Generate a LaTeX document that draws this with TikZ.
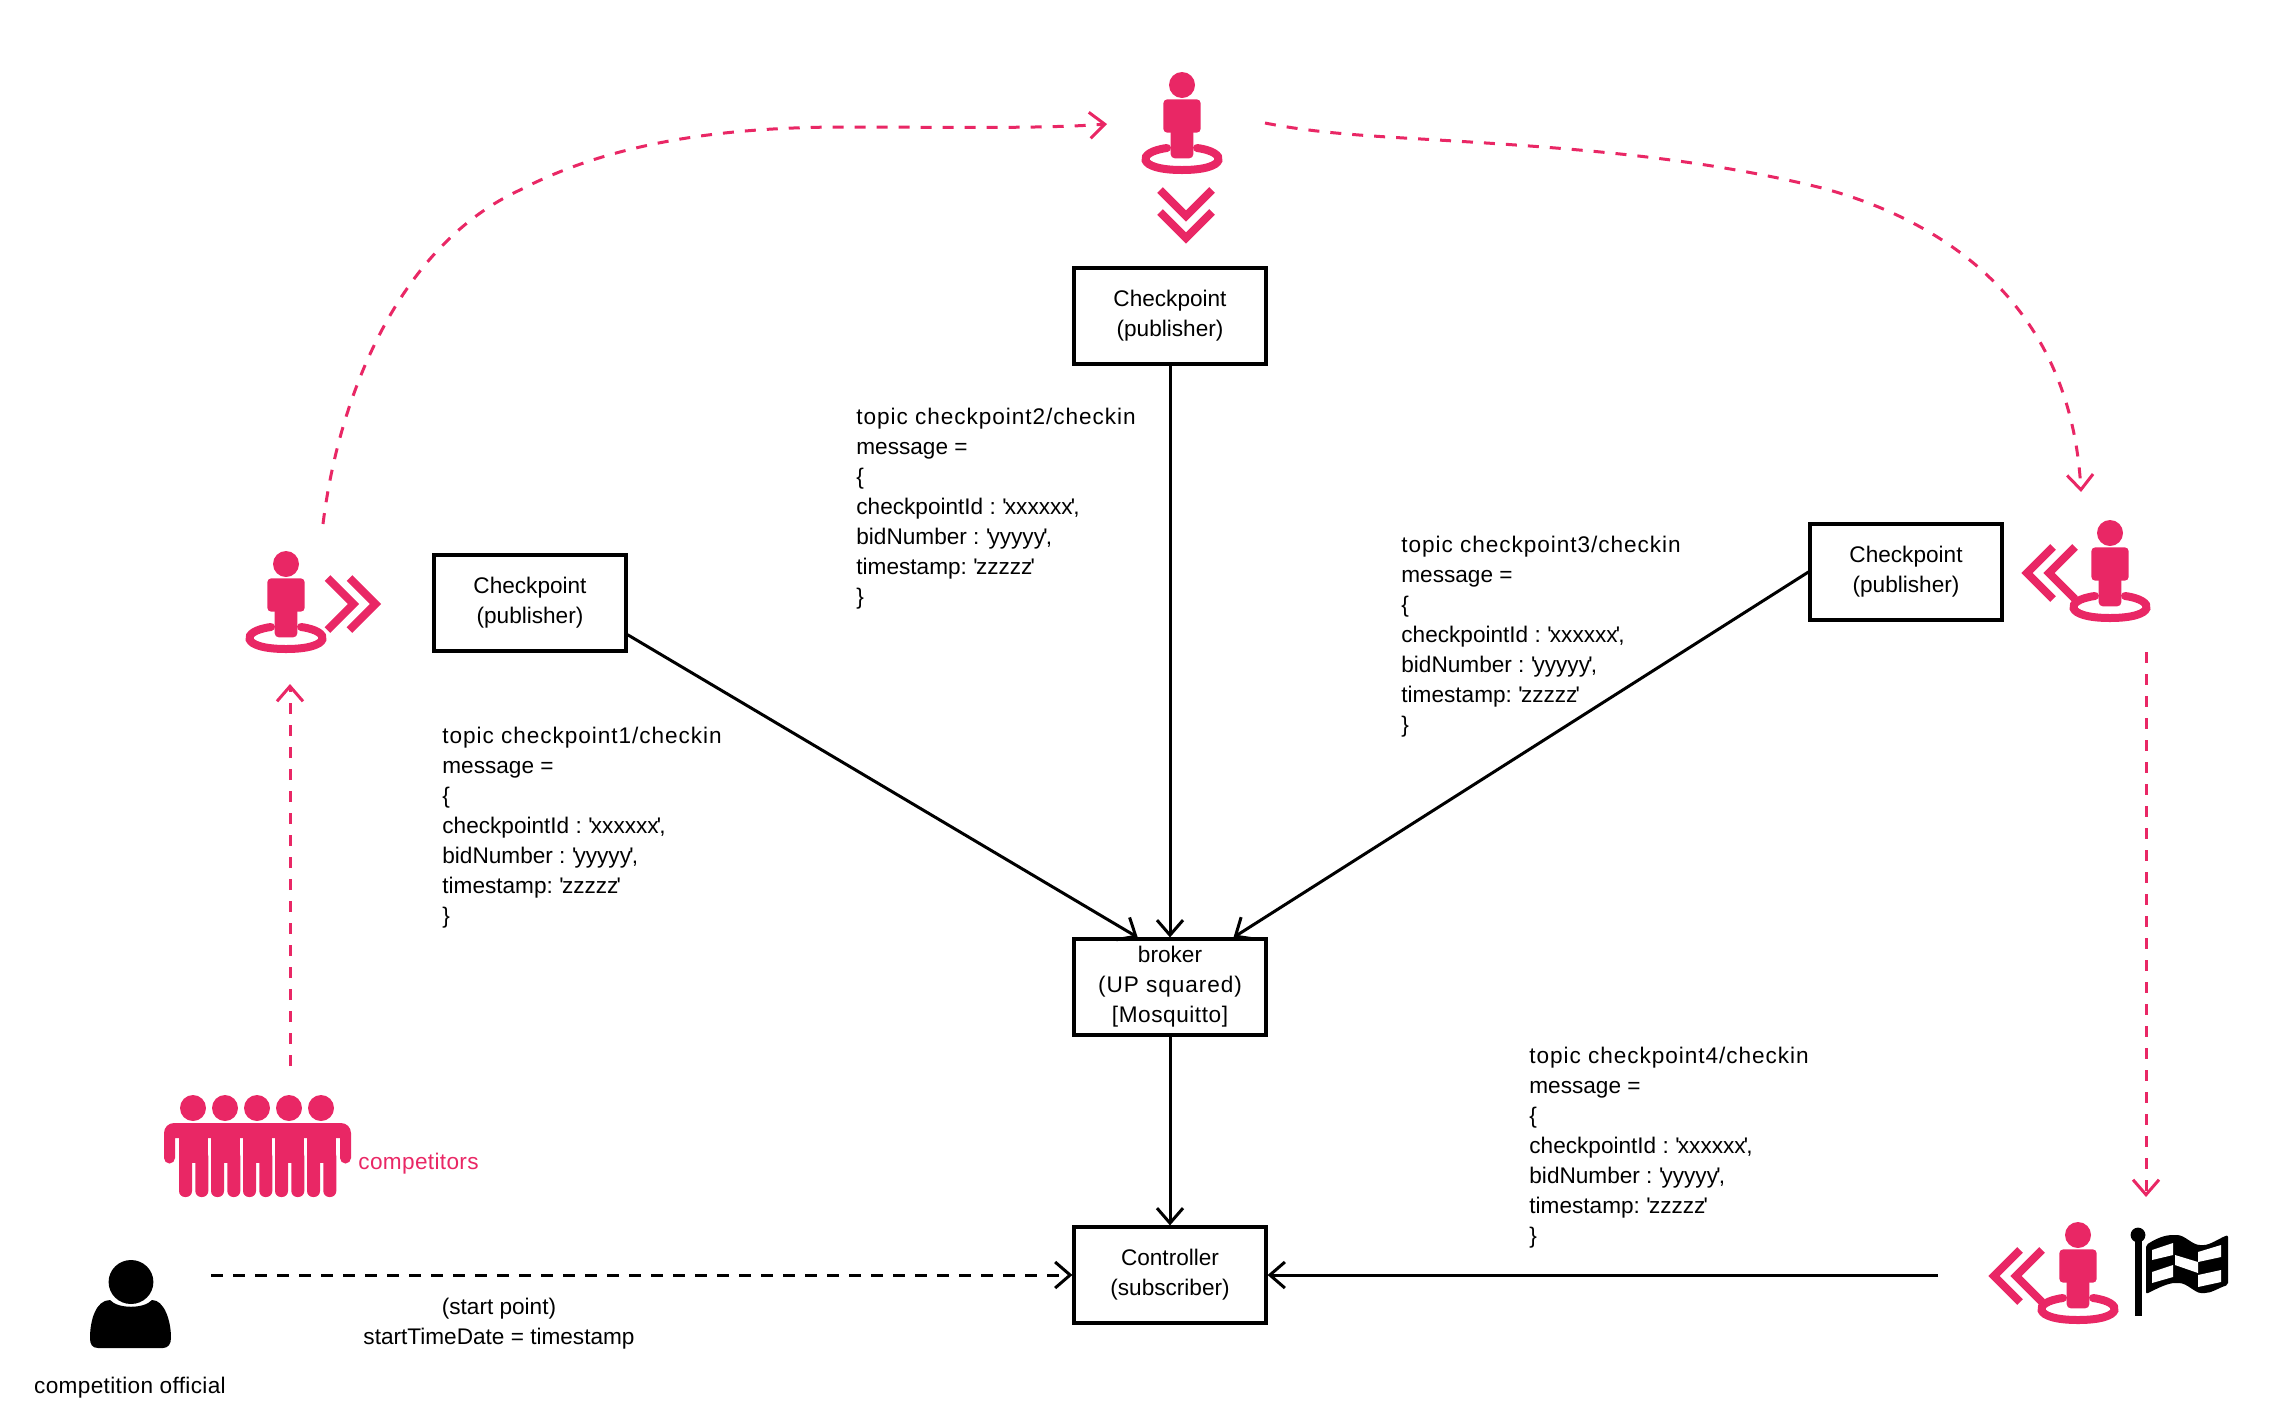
\documentclass[tikz,border=0pt]{standalone}
\usepackage{fontspec}
\setmainfont{Liberation Sans}
\usetikzlibrary{arrows.meta}
\definecolor{runpink}{HTML}{E92765}
\tikzstyle{every node}=[font=\fontsize{11.3}{15}\selectfont,align=center]
\tikzstyle{box}=[draw,line width=1.6pt,minimum width=96pt,minimum height=48pt,inner sep=0pt]
\tikzstyle{code}=[anchor=north west,inner sep=0pt,align=left]
\tikzstyle{wire}=[draw,line width=1.5pt,-{Straight Barb[length=7.5pt,width=13pt]}]
\tikzstyle{startwire}=[wire,dash pattern=on 6pt off 5pt]
\tikzstyle{flow}=[draw,runpink,line width=1.5pt,dash pattern=on 5.5pt off 5.5pt,-{Straight Barb[length=7.5pt,width=13pt]}]
\tikzset{
  runner/.pic={
    \fill[runpink] (0,0) circle[radius=6.5pt];
    \fill[runpink,rounded corners=2pt] (-18.7,14.3) rectangle (18.7,47.7);
    \fill[runpink,rounded corners=2pt] (-11.3,40) rectangle (11.3,73.3);
    \draw[runpink,line width=4pt,line cap=round]
      (-15,63) .. controls (-46,67) and (-46,85) .. (0,85) .. controls (46,85) and (46,67) .. (15,63);
  },
  chevrons/.pic={
    \foreach \off in {0,22}
      \draw[runpink,line width=4pt,miter limit=4] (\off-26,-26) -- (\off,0) -- (\off-26,26);
  }
}
\newcommand{\wide}[1]{{\addfontfeature{LetterSpace=4.2}#1}}
\newcommand{\apos}{\kern-.9pt\textquotesingle\kern-.9pt}
\newcommand{\codelines}[1]{\wide{topic checkpoint#1/checkin}\\message =\\\{\\checkpointId : \apos xxxxxx\apos,\\bidNumber : \apos yyyyy\apos,\\timestamp: \apos zzzzz\apos\\\}}
\begin{document}
\begin{tikzpicture}[x=0.5pt,y=-0.5pt]
    \useasboundingbox (0,0) rectangle (2276,1420);
    % boxes
    \foreach \pos/\name/\txt in {{(530,603)/cpone/Checkpoint\\(publisher)}, {(1170,316)/cptwo/Checkpoint\\(publisher)},
                            {(1906,572)/cpthree/Checkpoint\\(publisher)}, {(1170,987)/broker/broker\\\wide{(UP squared)}\\{\addfontfeature{LetterSpace=2.5}{[Mosquitto]}}},
                            {(1170,1275)/controller/Controller\\(subscriber)}}
        \node[box] (\name) at \pos {\txt};
    % messages
    \foreach \pos/\num in {{(442,727)/1}, {(856,408)/2}, {(1401,536)/3}, {(1529,1047)/4}}
        \node[code] (msg\num) at \pos {\codelines{\num}};
    % runners
    \path (286,564) pic {runner} (353.5,604) pic {chevrons};
    \path (1182,85) pic {runner} (1186,216) pic[rotate=-90] {chevrons};
    \path (2110,533) pic {runner} (2049,573) pic[rotate=180] {chevrons};
    \path (2078,1235) pic {runner} (2016,1276) pic[rotate=180] {chevrons};
    % competitors
    \foreach \i in {0,1,2,3,4} {
        \fill[runpink] (193+32*\i,1108) circle[radius=6.5pt];
        \fill[runpink] (179+32*\i,1130) rectangle (208.3+32*\i,1163);
        \fill[runpink,rounded corners=3pt] (179+32*\i,1150) rectangle (192+32*\i,1197);
        \fill[runpink,rounded corners=3pt] (195.3+32*\i,1150) rectangle (208.3+32*\i,1197);
    }
    \fill[runpink] (164,1158) [rounded corners=5pt] -- (164,1123) -- (351,1123) [sharp corners] -- (351,1158) -- (340,1158) -- (340,1138) -- (175,1138) -- (175,1158) -- cycle;
    \fill[runpink] (169.5,1158) circle[radius=2.75pt] (345.5,1158) circle[radius=2.75pt];
    \node[runpink,anchor=west,inner sep=0pt] (crowdlabel) at (358,1164) {\addfontfeature{LetterSpace=1.5}competitors};
    % official
    \fill (131,1282) ellipse[x radius=11.2pt,y radius=11pt];
    \fill (98,1348) .. controls (92,1348) and (90,1344) .. (90,1338) .. controls (90,1320) and (96,1300) .. (110,1300) .. controls (118,1309) and (144,1309) .. (152,1300) .. controls (164,1300) and (171,1320) .. (171,1338) .. controls (171,1344) and (168,1348) .. (163,1348) -- cycle;
    \node[inner sep=0pt] (official) at (130,1388) {\addfontfeature{LetterSpace=1.5}competition official};
    \node[inner sep=0pt] (startlabel) at (499,1324) {(start point)\\startTimeDate = timestamp};
    % flag
    \draw[line width=3.5pt] (2138,1235) -- (2138,1316);
    \fill (2138,1235) circle[radius=3.7pt];
    \fill[rounded corners=1pt] (2146,1245) .. controls (2160,1236) and (2168,1235) .. (2175,1235) .. controls (2185,1235) and (2192,1245) .. (2202,1245) .. controls (2210,1245) and (2220,1238) .. (2228,1235) -- (2228,1285) .. controls (2218,1288) and (2212,1293) .. (2203,1293) .. controls (2195,1293) and (2187,1283) .. (2177,1283) .. controls (2168,1283) and (2158,1288) .. (2146,1294) -- cycle;
    \foreach \patch in {{(2152,1250)--(2173,1243)--(2173,1255)--(2152,1260)},
                        {(2175,1255)--(2198,1262)--(2198,1273)--(2175,1265)},
                        {(2198,1252)--(2221,1245)--(2221,1257)--(2198,1262)},
                        {(2152,1272)--(2173,1265)--(2173,1277)--(2152,1283)},
                        {(2198,1275)--(2221,1270)--(2221,1282)--(2198,1287)}}
        \fill[white] \patch -- cycle;
    % connectors
    \coordinate (flowa) at (290,1066);
    \coordinate (flowb) at (290,684);
    \coordinate (flowc) at (323,524);
    \coordinate (flowd) at (1107,124);
    \coordinate (flowe) at (1265,123);
    \coordinate (flowf) at (2081,492);
    \coordinate (flowg) at (2146,652);
    \coordinate (flowh) at (2146,1197);
    \coordinate (officialend) at (211,1275);
    \coordinate (finishend) at (1938,1275);
    \path[flow] (flowa) -- (flowb);
    \path[flow] (flowc) .. controls (339,394) and (400,245) .. (520,190) .. controls (620,138) and (740,127) .. (846,127) .. controls (940,127) and (1040,129) .. (flowd);
    \path[flow] (flowe) .. controls (1315,133) and (1370,136) .. (1421,139) .. controls (1555,147) and (1688,155) .. (1822,188) .. controls (1970,228) and (2072,325) .. (flowf);
    \path[flow] (flowg) -- (flowh);
    \path[wire] (cpone.-18.3) -- (broker.123);
    \path[wire] (cptwo) -- (broker);
    \path[wire] (cpthree.west) -- (broker.38);
    \path[wire] (broker) -- (controller);
    \path[wire] (finishend) -- (controller);
    \path[startwire] (officialend) -- (controller);
\end{tikzpicture}
\end{document}
